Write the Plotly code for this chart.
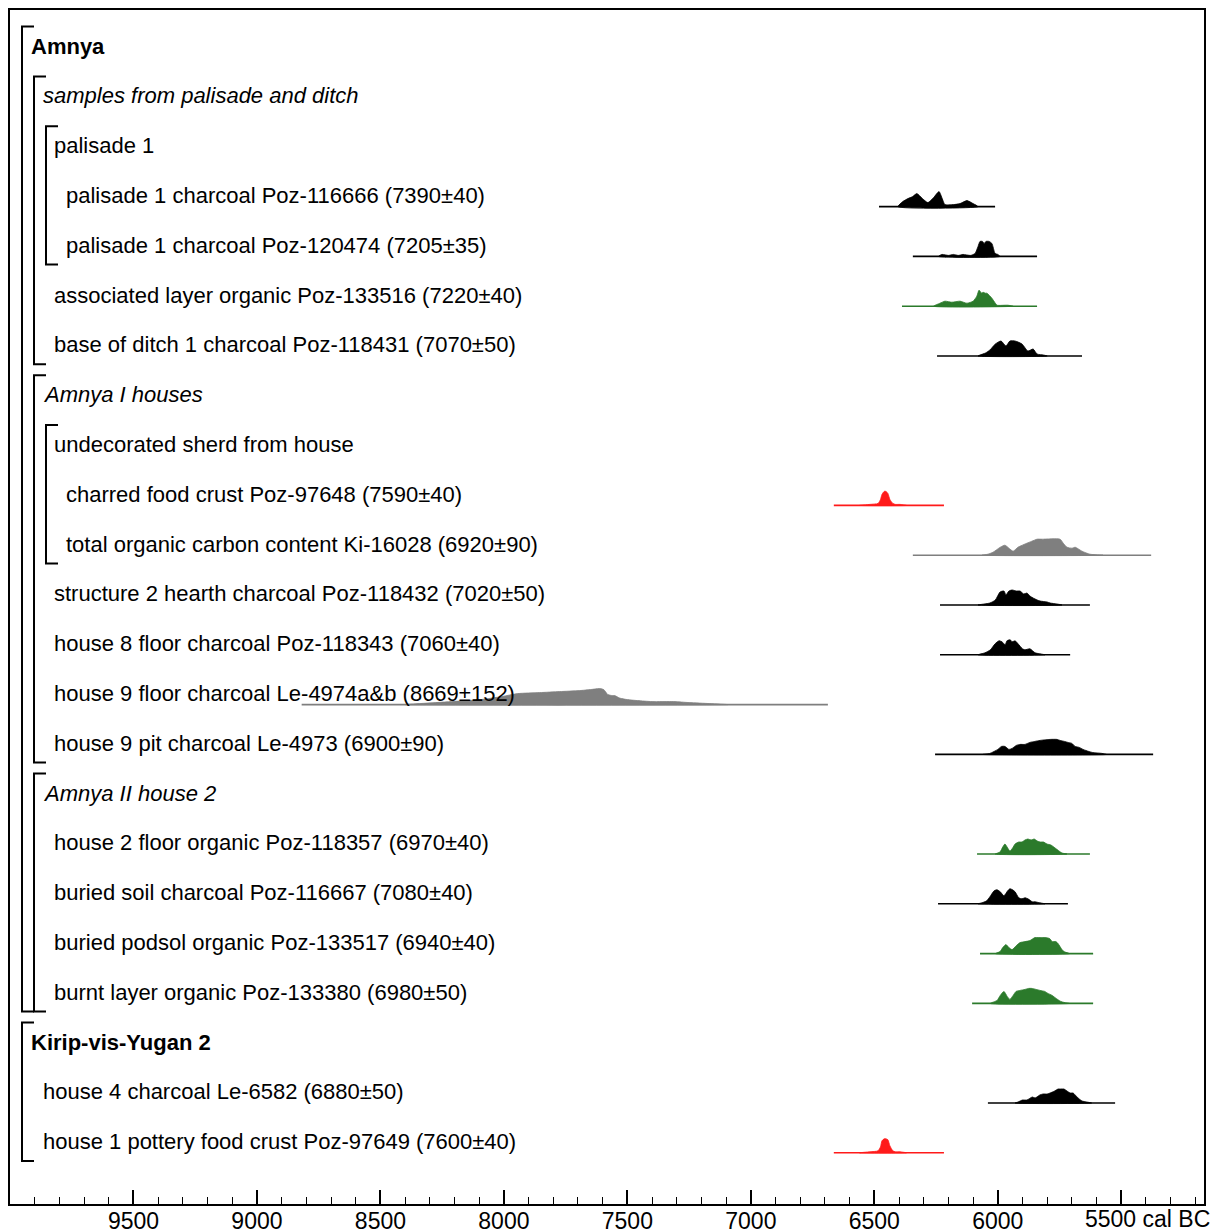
import plotly.graph_objects as go

# ---------------- data ----------------
labels = [
    "Amnya",
    "samples from palisade and ditch",
    "palisade 1",
    "palisade 1 charcoal Poz-116666 (7390±40)",
    "palisade 1 charcoal Poz-120474 (7205±35)",
    "associated layer organic Poz-133516 (7220±40)",
    "base of ditch 1 charcoal Poz-118431 (7070±50)",
    "Amnya I houses",
    "undecorated sherd from house",
    "charred food crust Poz-97648 (7590±40)",
    "total organic carbon content Ki-16028 (6920±90)",
    "structure 2 hearth charcoal Poz-118432 (7020±50)",
    "house 8 floor charcoal Poz-118343 (7060±40)",
    "house 9 floor charcoal Le-4974a&b (8669±152)",
    "house 9 pit charcoal Le-4973 (6900±90)",
    "Amnya II house 2",
    "house 2 floor organic Poz-118357 (6970±40)",
    "buried soil charcoal Poz-116667 (7080±40)",
    "buried podsol organic Poz-133517 (6940±40)",
    "burnt layer organic Poz-133380 (6980±50)",
    "Kirip-vis-Yugan 2",
    "house 4 charcoal Le-6582 (6880±50)",
    "house 1 pottery food crust Poz-97649 (7600±40)",
]
label_levels = [0, 1, 2, 3, 3, 2, 2, 1, 2, 3, 3, 2, 2, 2, 2, 1, 2, 2, 2, 2, 0, 1, 1]
label_styles = ["b", "i", "", "", "", "", "", "i", "", "", "", "", "", "", "", "i",
                "", "", "", "", "b", "", ""]

# groups: (first row, last row, nesting level)
group_first = [0, 1, 2, 7, 8, 15, 20]
group_last = [19, 6, 4, 14, 10, 19, 22]
group_level = [0, 1, 2, 1, 2, 1, 0]

# distributions: row, colour, range start/end (cal BC), years and relative density
dist_rows = [3, 4, 5, 6, 9, 10, 11, 12, 13, 14, 16, 17, 18, 19, 21, 22]
dist_colors = ["black", "black", "green", "black", "red", "grey", "black", "black",
               "grey", "black", "green", "black", "green", "green", "black", "red"]
range_start = [6481, 6344, 6388, 6246, 6664, 6344, 6234, 6234, 8819, 6254,
               6084, 6242, 6072, 6104, 6040, 6664]
range_end = [6011, 5841, 5841, 5659, 6218, 5379, 5627, 5707, 6688, 5371,
             5627, 5716, 5614, 5614, 5525, 6218]

yr_116666 = [6404, 6385, 6364, 6345, 6328, 6305, 6283, 6260, 6238, 6225, 6214, 6180, 6153, 6125, 6100, 6080]
pd_116666 = [0, 5, 8, 10, 13, 8, 4, 9, 15, 8, 2, 2, 3, 6, 3, 0]
yr_120474 = [6240, 6226, 6200, 6180, 6160, 6141, 6110, 6092, 6080, 6072, 6062, 6055, 6048, 6036, 6024, 6011, 6000, 5991]
pd_120474 = [0, 2, 1, 2, 1, 2, 1, 3, 10, 15, 15, 13, 15, 15, 13, 3, 2, 0]
yr_133516 = [6260, 6234, 6214, 6186, 6153, 6125, 6100, 6085, 6076, 6065, 6060, 6050, 6044, 6024, 6010, 6003, 5960, 5938]
pd_133516 = [0, 3, 5, 4, 5, 3, 5, 10, 16, 13, 14, 13, 13, 8, 3, 1, 1, 0]
yr_118431 = [6080, 6072, 6050, 6032, 6010, 5987, 5967, 5951, 5930, 5902, 5878, 5857, 5841, 5815, 5800]
pd_118431 = [0, 1, 3, 6, 12, 15, 10, 15, 15, 12, 5, 7, 2, 1, 0]
yr_97648 = [6560, 6518, 6485, 6475, 6469, 6460, 6453, 6445, 6437, 6425, 6415, 6396, 6370]
pd_97648 = [0, 1, 2, 6, 11, 14, 14, 12, 6, 2, 1, 1, 0]
yr_16028 = [6064, 6040, 6019, 5990, 5971, 5955, 5938, 5918, 5882, 5862, 5841, 5820, 5748, 5735, 5720, 5699, 5687, 5659, 5627, 5574]
pd_16028 = [0, 1, 3, 8, 10, 7, 4, 8, 12, 14, 16, 16, 16, 12, 8, 7, 8, 4, 1, 0]
yr_118432 = [6080, 6032, 6010, 5991, 5975, 5967, 5955, 5942, 5925, 5910, 5895, 5882, 5870, 5857, 5840, 5829, 5800, 5788, 5760, 5740]
pd_118432 = [0, 2, 5, 13, 14, 10, 14, 15, 14, 14, 11, 12, 9, 7, 5, 4, 3, 2, 1, 0]
yr_118343 = [6080, 6052, 6030, 6011, 5995, 5983, 5970, 5963, 5950, 5942, 5930, 5918, 5900, 5890, 5870, 5849, 5830, 5809]
pd_118343 = [0, 2, 5, 11, 14, 13, 10, 14, 15, 13, 14, 11, 6, 5, 6, 2, 1, 0]
yr_4974 = [8400, 8341, 8212, 8094, 8009, 7944, 7855, 7774, 7693, 7650, 7612, 7596, 7579, 7560, 7551, 7531, 7500, 7458, 7400, 7312, 7250, 7166, 7093]
pd_4974 = [0, 1, 3, 5, 8, 11, 12, 13, 14, 15, 16, 15, 10, 9, 9, 6.5, 5, 4, 3, 3, 2, 1, 0]
yr_4973 = [6060, 6032, 6000, 5985, 5971, 5955, 5942, 5925, 5910, 5890, 5870, 5850, 5829, 5788, 5760, 5748, 5730, 5716, 5700, 5687, 5670, 5655, 5618, 5578, 5560]
pd_4973 = [0, 1, 5, 8, 8, 5, 6, 9, 10, 10, 12, 13, 14, 15, 15, 14, 13, 12, 11, 8, 7, 5, 2, 1, 0]
yr_118357 = [6010, 5991, 5980, 5971, 5960, 5951, 5940, 5930, 5915, 5902, 5890, 5878, 5865, 5853, 5840, 5829, 5815, 5801, 5785, 5768, 5740, 5720]
pd_118357 = [0, 2, 7, 10, 6, 3, 6, 10, 12, 12, 14, 15, 14, 15, 13, 12, 12, 10, 9, 6, 1, 0]
yr_116667 = [6080, 6064, 6045, 6032, 6015, 6003, 5990, 5975, 5960, 5951, 5940, 5930, 5915, 5902, 5890, 5878, 5860, 5849, 5830, 5809]
pd_116667 = [0, 1, 3, 7, 13, 14, 12, 8, 13, 15, 14, 12, 6, 5, 6, 5, 2, 2, 1, 0]
yr_133517 = [6010, 5991, 5980, 5967, 5955, 5942, 5925, 5910, 5890, 5870, 5850, 5837, 5820, 5805, 5790, 5780, 5765, 5756, 5740, 5732, 5710]
pd_133517 = [0, 2, 6, 9, 6, 4, 8, 11, 12, 13, 16, 16, 16, 16, 15, 12, 12, 10, 4, 2, 0]
yr_133380 = [6030, 6003, 5990, 5975, 5962, 5951, 5938, 5926, 5910, 5890, 5875, 5862, 5845, 5829, 5810, 5797, 5780, 5764, 5745, 5732, 5710]
pd_133380 = [0, 3, 8, 12, 7, 4, 8, 12, 13, 14, 15, 15, 14, 13, 12, 10, 8, 5, 2, 1, 0]
yr_6582 = [5930, 5918, 5900, 5882, 5860, 5849, 5830, 5817, 5800, 5788, 5770, 5756, 5745, 5732, 5720, 5707, 5695, 5683, 5670, 5659, 5640, 5620]
pd_6582 = [0, 1, 3, 3, 6, 5, 8, 9, 9, 10, 12, 14, 14, 14, 12, 10, 10, 7, 4, 2, 1, 0]
yr_97649 = [6560, 6518, 6485, 6475, 6469, 6460, 6453, 6445, 6437, 6425, 6415, 6396, 6370]
pd_97649 = [0, 1, 2, 6, 12, 14, 14, 13, 7, 2, 1, 1, 0]

dist_years = [yr_116666, yr_120474, yr_133516, yr_118431, yr_97648, yr_16028, yr_118432,
              yr_118343, yr_4974, yr_4973, yr_118357, yr_116667, yr_133517, yr_133380,
              yr_6582, yr_97649]
dist_dens = [pd_116666, pd_120474, pd_133516, pd_118431, pd_97648, pd_16028, pd_118432,
             pd_118343, pd_4974, pd_4973, pd_118357, pd_116667, pd_133517, pd_133380,
             pd_6582, pd_97649]

tick_years = [9500, 9000, 8500, 8000, 7500, 7000, 6500, 6000, 5500]
tick_labels = ["9500", "9000", "8500", "8000", "7500", "7000", "6500", "6000", ""]
axis_unit_label = "5500 cal BC"

# ---------------- styling ----------------
PAGE_OFF = 8                     # default body margin of the html page
W, H = 1222 - PAGE_OFF, 1231 - PAGE_OFF
PL, PR, PT, PB = 10, 1204, 10, 1204          # plot area in page pixels
PLOT_W = PR - PL
PLOT_H = PB - PT
ROW_PX = 49.8
ROW0_PX = 46
FONT = "Liberation Sans, Arial, sans-serif"
COLOR_MAP = {"black": "#000000", "green": "#2b7a2b", "red": "#ff1a1a", "grey": "#7f7f7f"}
BASE_OFF = 0.225            # baseline below label centre, in rows
DENS_SCALE = 1.0 / ROW_PX   # density units -> rows

def px_to_paper(px):
    return (px - PL) / PLOT_W

n_rows = len(labels)
y_top = -(ROW0_PX - PT) / ROW_PX
y_bot = (n_rows - 1) + (PB - (ROW0_PX + (n_rows - 1) * ROW_PX)) / ROW_PX

fig = go.Figure()

for row, col, r0, r1, yrs, dens in zip(dist_rows, dist_colors, range_start, range_end,
                                       dist_years, dist_dens):
    c = COLOR_MAP[col]
    base = row + BASE_OFF
    fig.add_trace(go.Scatter(
        x=[r0, r1], y=[base, base], mode="lines",
        line=dict(color=c, width=1.6), hoverinfo="skip", showlegend=False))
    fig.add_trace(go.Scatter(
        x=list(yrs) + [yrs[0]], y=[base - d * DENS_SCALE for d in dens] + [base],
        mode="lines", fill="toself", fillcolor=c,
        line=dict(color=c, width=0.8, shape="spline", smoothing=0.6),
        hoverinfo="skip", showlegend=False))

annotations = []
text_x_px = [29, 41, 52, 64]
for i, (lab, lev, sty) in enumerate(zip(labels, label_levels, label_styles)):
    t = lab.replace("&", "&amp;")
    if sty:
        t = f"<{sty}>{t}</{sty}>"
    annotations.append(dict(
        x=px_to_paper(text_x_px[lev]), xref="paper", y=i, yref="y",
        text=t, showarrow=False, xanchor="left", yanchor="middle",
        font=dict(family=FONT, size=22, color="black")))

annotations.append(dict(
    x=px_to_paper(1212), xref="paper", y=-(1219 - PB) / PLOT_H, yref="paper",
    text=axis_unit_label, showarrow=False, xanchor="right", yanchor="middle",
    font=dict(family=FONT, size=23, color="black")))

shapes = []
bracket_x_px = [22, 34, 46]
BR_LEN = 12
for g0, g1, lev in zip(group_first, group_last, group_level):
    bx = px_to_paper(bracket_x_px[lev])
    bx2 = px_to_paper(bracket_x_px[lev] + BR_LEN)
    top = g0 - 0.39
    bot = g1 + 0.39
    shapes.append(dict(
        type="path", xref="paper", yref="y",
        path=f"M {bx2},{top} L {bx},{top} L {bx},{bot} L {bx2},{bot}",
        line=dict(color="black", width=2)))

fig.update_layout(
    width=W, height=H,
    margin=dict(l=PL - PAGE_OFF, r=W - (PR - PAGE_OFF), t=PT - PAGE_OFF,
                b=H - (PB - PAGE_OFF), autoexpand=False),
    paper_bgcolor="white", plot_bgcolor="white",
    showlegend=False,
    annotations=annotations, shapes=shapes,
    font=dict(family=FONT, color="black"),
)
fig.update_xaxes(
    range=[10000, 5165], showgrid=False, zeroline=False,
    showline=True, linecolor="black", linewidth=2, mirror=True,
    tickmode="array", tickvals=tick_years, ticktext=tick_labels,
    ticks="inside", ticklen=14, tickwidth=1.5, tickcolor="black",
    minor=dict(tickmode="linear", tick0=0, dtick=100, ticks="inside",
               ticklen=7, tickwidth=1, tickcolor="black"),
    tickfont=dict(family=FONT, size=23, color="black"),
    ticklabelstandoff=-5,
    automargin=False,
)
fig.update_yaxes(
    range=[y_bot, y_top], showgrid=False, zeroline=False, showticklabels=False,
    showline=True, linecolor="black", linewidth=2, mirror=True, ticks="",
    automargin=False,
)

fig.write_html("out.html")
